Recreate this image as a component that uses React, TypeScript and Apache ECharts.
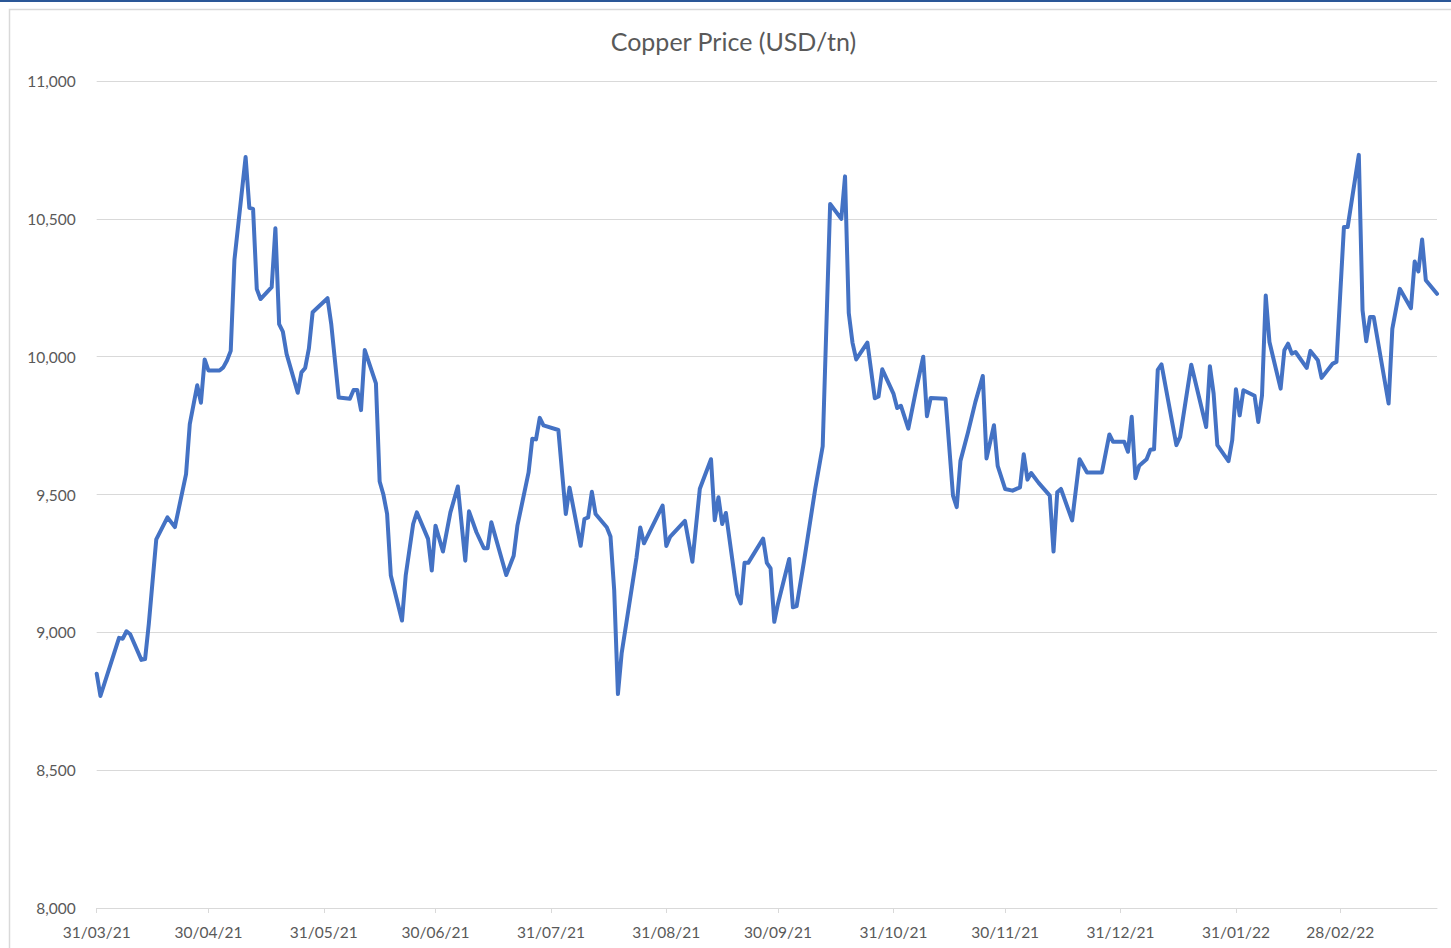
import React, { useEffect, useRef } from "react";
import * as echarts from "echarts";

const chartTitle = "Copper Price (USD/tn)";
const axisStart = "2021-03-31";
const axisEnd = "2022-03-26";
const yTicks = [8000, 8500, 9000, 9500, 10000, 10500, 11000];

const dates = [
  "2021-03-31", "2021-04-01", "2021-04-06", "2021-04-07", "2021-04-08", "2021-04-09", "2021-04-12", "2021-04-13",
  "2021-04-14", "2021-04-16", "2021-04-19", "2021-04-21", "2021-04-24", "2021-04-25", "2021-04-27", "2021-04-28",
  "2021-04-29", "2021-04-30", "2021-05-03", "2021-05-04", "2021-05-05", "2021-05-06", "2021-05-07", "2021-05-10",
  "2021-05-11", "2021-05-12", "2021-05-13", "2021-05-14", "2021-05-17", "2021-05-18", "2021-05-19", "2021-05-20",
  "2021-05-21", "2021-05-24", "2021-05-25", "2021-05-26", "2021-05-27", "2021-05-28", "2021-06-01", "2021-06-02",
  "2021-06-04", "2021-06-07", "2021-06-08", "2021-06-09", "2021-06-10", "2021-06-11", "2021-06-14", "2021-06-15",
  "2021-06-16", "2021-06-17", "2021-06-18", "2021-06-21", "2021-06-22", "2021-06-24", "2021-06-25", "2021-06-28",
  "2021-06-29", "2021-06-30", "2021-07-02", "2021-07-04", "2021-07-06", "2021-07-08", "2021-07-09", "2021-07-11",
  "2021-07-13", "2021-07-14", "2021-07-15", "2021-07-19", "2021-07-21", "2021-07-22", "2021-07-25", "2021-07-26",
  "2021-07-27", "2021-07-28", "2021-07-29", "2021-08-02", "2021-08-03", "2021-08-04", "2021-08-05", "2021-08-08",
  "2021-08-09", "2021-08-10", "2021-08-11", "2021-08-12", "2021-08-15", "2021-08-16", "2021-08-17", "2021-08-18",
  "2021-08-19", "2021-08-23", "2021-08-24", "2021-08-25", "2021-08-30", "2021-08-31", "2021-09-01", "2021-09-05",
  "2021-09-07", "2021-09-09", "2021-09-12", "2021-09-13", "2021-09-14", "2021-09-15", "2021-09-16", "2021-09-19",
  "2021-09-20", "2021-09-21", "2021-09-22", "2021-09-26", "2021-09-27", "2021-09-28", "2021-09-29", "2021-09-30",
  "2021-10-03", "2021-10-04", "2021-10-05", "2021-10-07", "2021-10-10", "2021-10-12", "2021-10-14", "2021-10-17",
  "2021-10-18", "2021-10-19", "2021-10-20", "2021-10-21", "2021-10-24", "2021-10-26", "2021-10-27", "2021-10-28",
  "2021-10-31", "2021-11-01", "2021-11-02", "2021-11-04", "2021-11-06", "2021-11-08", "2021-11-09", "2021-11-10",
  "2021-11-14", "2021-11-16", "2021-11-17", "2021-11-18", "2021-11-20", "2021-11-22", "2021-11-24", "2021-11-25",
  "2021-11-27", "2021-11-28", "2021-11-30", "2021-12-02", "2021-12-04", "2021-12-05", "2021-12-06", "2021-12-07",
  "2021-12-09", "2021-12-12", "2021-12-13", "2021-12-14", "2021-12-15", "2021-12-18", "2021-12-20", "2021-12-22",
  "2021-12-26", "2021-12-28", "2021-12-29", "2022-01-01", "2022-01-02", "2022-01-03", "2022-01-04", "2022-01-05",
  "2022-01-07", "2022-01-08", "2022-01-09", "2022-01-10", "2022-01-11", "2022-01-15", "2022-01-16", "2022-01-19",
  "2022-01-23", "2022-01-24", "2022-01-25", "2022-01-26", "2022-01-29", "2022-01-30", "2022-01-31", "2022-02-01",
  "2022-02-02", "2022-02-05", "2022-02-06", "2022-02-07", "2022-02-08", "2022-02-09", "2022-02-12", "2022-02-13",
  "2022-02-14", "2022-02-15", "2022-02-16", "2022-02-19", "2022-02-20", "2022-02-22", "2022-02-23", "2022-02-26",
  "2022-02-27", "2022-03-01", "2022-03-02", "2022-03-05", "2022-03-06", "2022-03-07", "2022-03-08", "2022-03-09",
  "2022-03-13", "2022-03-14", "2022-03-16", "2022-03-19", "2022-03-20", "2022-03-21", "2022-03-22", "2022-03-23",
  "2022-03-26",
];

const prices = [
  8850, 8769, 8980, 8977, 9004, 8993, 8900, 8903,
  9031, 9337, 9417, 9382, 9574, 9755, 9896, 9833,
  9990, 9950, 9950, 9961, 9986, 10021, 10352, 10724,
  10540, 10536, 10245, 10209, 10252, 10466, 10118, 10091,
  10010, 9869, 9943, 9959, 10030, 10161, 10212, 10118,
  9852, 9847, 9879, 9879, 9806, 10024, 9903, 9547,
  9500, 9430, 9206, 9043, 9206, 9393, 9435, 9339,
  9224, 9387, 9293, 9435, 9529, 9260, 9439, 9363,
  9305, 9305, 9399, 9208, 9278, 9387, 9580, 9702,
  9700, 9778, 9751, 9734, 9580, 9429, 9525, 9314,
  9411, 9417, 9510, 9429, 9381, 9348, 9152, 8776,
  8924, 9272, 9380, 9323, 9460, 9313, 9346, 9404,
  9256, 9521, 9628, 9407, 9490, 9393, 9433, 9138,
  9105, 9252, 9252, 9340, 9252, 9232, 9038, 9105,
  9266, 9091, 9095, 9259, 9521, 9675, 10554, 10500,
  10654, 10158, 10051, 9990, 10051, 9849, 9856, 9954,
  9866, 9814, 9822, 9739, 9874, 10000, 9784, 9850,
  9847, 9496, 9454, 9622, 9724, 9835, 9930, 9631,
  9751, 9604, 9520, 9514, 9526, 9646, 9554, 9578,
  9542, 9496, 9293, 9508, 9520, 9406, 9628, 9580,
  9580, 9718, 9691, 9691, 9655, 9782, 9559, 9604,
  9628, 9662, 9664, 9952, 9972, 9679, 9709, 9971,
  9745, 9965, 9866, 9679, 9621, 9697, 9882, 9787,
  9878, 9858, 9763, 9860, 10222, 10053, 9884, 10023,
  10047, 10011, 10017, 9959, 10021, 9987, 9923, 9975,
  9981, 10470, 10470, 10732, 10168, 10056, 10144, 10144,
  9830, 10101, 10246, 10176, 10345, 10309, 10425, 10277,
  10228,
];

function buildDays(start: string, end: string): string[] {
  const out: string[] = [];
  const d = new Date(start + "T00:00:00Z");
  const e = new Date(end + "T00:00:00Z");
  while (d.getTime() <= e.getTime()) {
    out.push(d.toISOString().slice(0, 10));
    d.setUTCDate(d.getUTCDate() + 1);
  }
  return out;
}

function isMonthEnd(iso: string): boolean {
  const d = new Date(iso + "T00:00:00Z");
  const n = new Date(d.getTime() + 86400000);
  return n.getUTCDate() === 1;
}

function fmtDate(iso: string): string {
  const [y, m, d] = iso.split("-");
  return `${d}/${m}/${y.slice(2)}`;
}

export default function App() {
  const ref = useRef<HTMLDivElement>(null);
  useEffect(() => {
    if (!ref.current) return;
    const chart = echarts.init(ref.current, undefined, { renderer: "svg" });
    const days = buildDays(axisStart, axisEnd);
    const lookup: Record<string, number> = {};
    dates.forEach((d, i) => (lookup[d] = prices[i]));
    const seriesData = days.map((d) => (d in lookup ? lookup[d] : null));
    const font = "Lato, 'Noto Sans', sans-serif";

    chart.setOption({
      animation: false,
      backgroundColor: "#ffffff",
      grid: { left: 96.7, right: 14, top: 81, bottom: 40 },
      graphic: [
        { type: "rect", shape: { x: 0, y: 0, width: 1451, height: 2 }, style: { fill: "#2b5797" }, silent: true },
        {
          type: "rect",
          shape: { x: 9.5, y: 9.5, width: 1480, height: 980 },
          style: { fill: "none", stroke: "#d9d9d9", lineWidth: 1.5 },
          silent: true,
          z: -1,
        },
        {
          type: "text",
          x: 733.5,
          y: 41,
          style: {
            text: chartTitle,
            fill: "#595959",
            font: `25px ${font}`,
            textAlign: "center",
            textVerticalAlign: "middle",
          },
        },
      ],
      xAxis: {
        type: "category",
        data: days,
        boundaryGap: false,
        axisLine: { show: true, lineStyle: { color: "#d9d9d9", width: 1 } },
        axisTick: {
          show: true,
          length: 5,
          interval: (idx: number, val: string) => isMonthEnd(val),
          lineStyle: { color: "#d9d9d9" },
        },
        axisLabel: {
          interval: (idx: number, val: string) => isMonthEnd(val),
          formatter: (v: string) => fmtDate(v),
          color: "#595959",
          fontFamily: font,
          fontSize: 15.5,
          margin: 16,
        },
        splitLine: { show: false },
      },
      yAxis: {
        type: "value",
        min: yTicks[0],
        max: yTicks[yTicks.length - 1],
        interval: 500,
        axisLine: { show: false },
        axisTick: { show: false },
        axisLabel: {
          color: "#595959",
          fontFamily: font,
          fontSize: 15.5,
          margin: 21,
          formatter: (v: number) => v.toLocaleString("en-US"),
        },
        splitLine: { show: true, lineStyle: { color: "#d9d9d9", width: 1 } },
      },
      series: [
        {
          type: "line",
          name: "Copper",
          data: seriesData,
          connectNulls: true,
          showSymbol: false,
          symbol: "none",
          lineStyle: { color: "#4472C4", width: 4, join: "round", cap: "round" },
          itemStyle: { color: "#4472C4" },
        },
      ],
    });
    return () => chart.dispose();
  }, []);
  return (
    <div
      ref={ref}
      style={{ position: "absolute", left: 0, top: 0, width: 1451, height: 948, background: "#fff" }}
    />
  );
}
